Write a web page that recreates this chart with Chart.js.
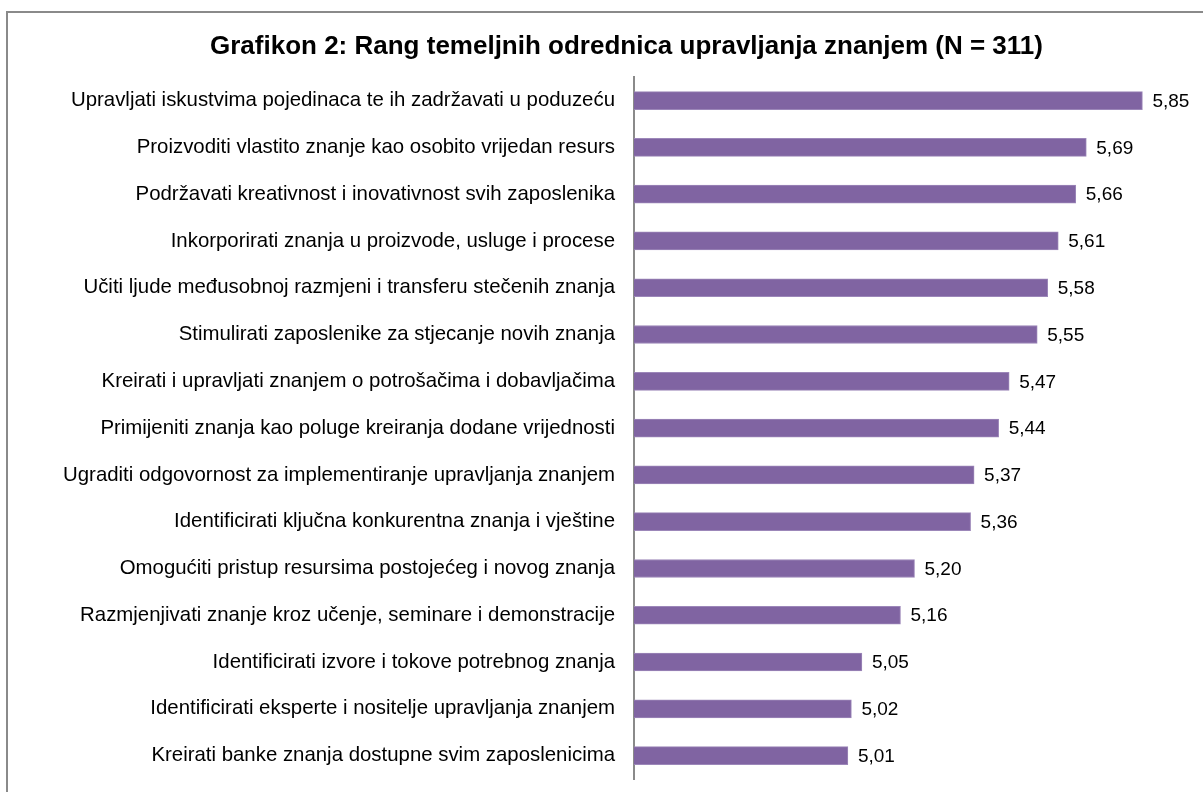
<!DOCTYPE html>
<html>
<head>
<meta charset="utf-8">
<script src="https://cdn.jsdelivr.net/npm/chart.js@4"></script>
<style>
  html, body { margin: 0; padding: 0; background: #fff; overflow: hidden; }
  #wrap { position: relative; width: 1203px; height: 792px; }
</style>
</head>
<body>
<div id="wrap"><canvas id="bar-chart" width="1203" height="792"></canvas></div>
<script>
const categories = [
    'Upravljati iskustvima pojedinaca te ih zadržavati u poduzeću',
    'Proizvoditi vlastito znanje kao osobito vrijedan resurs',
    'Podržavati kreativnost i inovativnost svih zaposlenika',
    'Inkorporirati znanja u proizvode, usluge i procese',
    'Učiti ljude međusobnoj razmjeni i transferu stečenih znanja',
    'Stimulirati zaposlenike za stjecanje novih znanja',
    'Kreirati i upravljati znanjem o potrošačima i dobavljačima',
    'Primijeniti znanja kao poluge kreiranja dodane vrijednosti',
    'Ugraditi odgovornost za implementiranje upravljanja znanjem',
    'Identificirati ključna konkurentna znanja i vještine',
    'Omogućiti pristup resursima postojećeg i novog znanja',
    'Razmjenjivati znanje kroz učenje, seminare i demonstracije',
    'Identificirati izvore i tokove potrebnog znanja',
    'Identificirati eksperte i nositelje upravljanja znanjem',
    'Kreirati banke znanja dostupne svim zaposlenicima'
];
const values = [5.85, 5.69, 5.66, 5.61, 5.58, 5.55, 5.47, 5.44, 5.37, 5.36, 5.20, 5.16, 5.05, 5.02, 5.01];
const axisMin = 4.4;
const axisMax = 6.0;

const fontFamily = '"Liberation Sans", Arial, sans-serif';

// outer frame + value labels next to bars
const extras = {
    id: 'extras',
    beforeDraw(chart) {
        const c = chart.ctx;
        c.save();
        c.strokeStyle = '#8a8a8a';
        c.lineWidth = 2;
        c.strokeRect(7, 12, 1400, 1000);
        c.restore();
    },
    afterDatasetsDraw(chart) {
        const c = chart.ctx;
        const meta = chart.getDatasetMeta(0);
        c.save();
        c.font = '19px ' + fontFamily;
        c.fillStyle = '#000';
        c.textAlign = 'left';
        c.textBaseline = 'middle';
        meta.data.forEach((bar, i) => {
            c.fillText(values[i].toFixed(2).replace('.', ','), bar.x + 10, bar.y + 1);
        });
        c.restore();
    }
};

new Chart(document.getElementById('bar-chart'), {
    type: 'bar',
    data: {
        labels: categories,
        datasets: [{
            data: values,
            backgroundColor: '#8064a2',
            borderColor: '#9c87b9',
            borderWidth: 1,
            barThickness: 18
        }]
    },
    options: {
        indexAxis: 'y',
        responsive: false,
        animation: false,
        layout: { padding: { left: 58, right: 8, bottom: 13 } },
        plugins: {
            legend: { display: false },
            tooltip: { enabled: false },
            title: {
                display: true,
                text: 'Grafikon 2: Rang temeljnih odrednica upravljanja znanjem (N = 311)',
                color: '#000',
                font: { family: fontFamily, size: 26, weight: 'bold' },
                padding: { top: 31, bottom: 15 }
            }
        },
        scales: {
            x: {
                min: axisMin,
                max: axisMax,
                display: false
            },
            y: {
                afterFit(scale) {
                    scale.width = 576;
                    scale.paddingTop = 0;
                    scale.paddingBottom = 0;
                },
                grid: { display: false, drawTicks: false },
                border: { display: true, color: '#8a8a8a', width: 2 },
                ticks: {
                    color: '#000',
                    padding: 19,
                    font: { family: fontFamily, size: 20.4 }
                }
            }
        }
    },
    plugins: [extras]
});
</script>
</body>
</html>
